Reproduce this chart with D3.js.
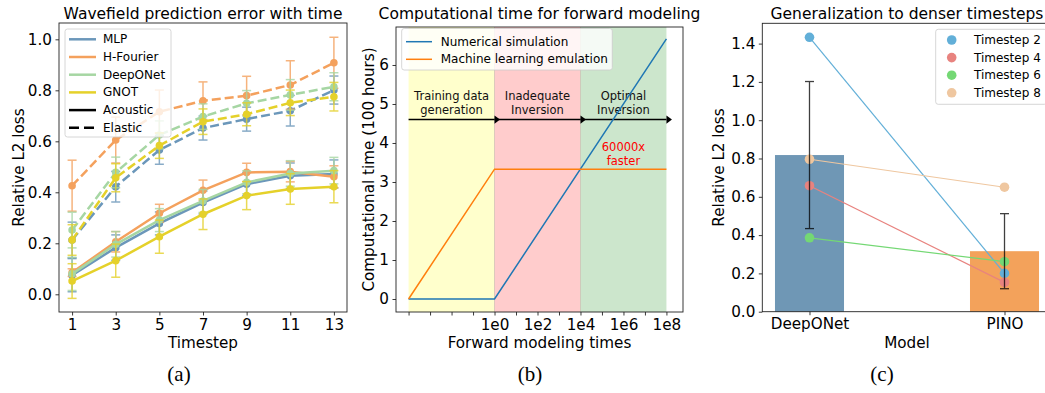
<!DOCTYPE html>
<html><head><meta charset="utf-8">
<script src="https://cdn.jsdelivr.net/npm/d3@7"></script>
<style>
body{margin:0;background:#fff}
svg{display:block;font-family:"DejaVu Sans",sans-serif}
</style>
</head><body>
<script>
// ---------------- (a) wavefield prediction error ----------------
const timesteps = [1, 3, 5, 7, 9, 11, 13];
const modelNames = ["MLP", "H-Fourier", "DeepONet", "GNOT"];
const modelColors = ["#6b97ba", "#f4a15d", "#a6d6a3", "#e5d12a"];

const mlpAcoustic      = [0.075, 0.183, 0.278, 0.360, 0.432, 0.465, 0.472];
const mlpAcousticErr   = [0.065, 0.050, 0.045, 0.045, 0.045, 0.050, 0.055];
const hfAcoustic       = [0.085, 0.206, 0.318, 0.408, 0.478, 0.481, 0.461];
const hfAcousticErr    = [0.015, 0.040, 0.035, 0.040, 0.036, 0.040, 0.043];
const donAcoustic      = [0.080, 0.196, 0.291, 0.366, 0.439, 0.474, 0.485];
const donAcousticErr   = [0.065, 0.050, 0.045, 0.045, 0.045, 0.050, 0.052];
const gnotAcoustic     = [0.052, 0.132, 0.226, 0.314, 0.387, 0.413, 0.422];
const gnotAcousticErr  = [0.068, 0.065, 0.065, 0.060, 0.055, 0.060, 0.063];

const mlpElastic       = [0.213, 0.422, 0.566, 0.652, 0.687, 0.720, 0.801];
const mlpElasticErr    = [0.070, 0.060, 0.056, 0.047, 0.047, 0.060, 0.055];
const hfElastic        = [0.426, 0.605, 0.716, 0.759, 0.779, 0.821, 0.908];
const hfElasticErr     = [0.100, 0.090, 0.085, 0.074, 0.076, 0.095, 0.100];
const donElastic       = [0.252, 0.478, 0.625, 0.697, 0.749, 0.782, 0.814];
const donElasticErr    = [0.070, 0.060, 0.055, 0.050, 0.050, 0.060, 0.055];
const gnotElastic      = [0.213, 0.457, 0.583, 0.677, 0.706, 0.751, 0.775];
const gnotElasticErr   = [0.060, 0.055, 0.050, 0.050, 0.045, 0.050, 0.056];

const lossTicksA = [0.0, 0.2, 0.4, 0.6, 0.8, 1.0];

// ---------------- (b) computational time ----------------
const fwdTimes = [1e-4, 1e0, 1e8];
const numericalHours = [0, 0, 6.67];
const mlHours = [0, 3.33, 3.33];
const phaseBounds = [1e-4, 1e0, 1e4, 1e8];
const phaseLabels = [["Training data", "generation"], ["Inadequate", "Inversion"], ["Optimal", "Inversion"]];
const phaseColors = ["#ffffcc", "#ffcccc", "#cce6cc"];
const phaseLabelPos = [1e-2, 1e2, 1e6];
const timeTickExps = [-4, -3, -2, -1, 0, 1, 2, 3, 4, 5, 6, 7, 8];
const timeLabelExps = [0, 2, 4, 6, 8];
const hourTicks = [0, 1, 2, 3, 4, 5, 6];
const arrowLevel = 4.6;
const speedupText = ["60000x", "faster"];

// ---------------- (c) generalization ----------------
const genModels = ["DeepONet", "PINO"];
const genMean = [0.818, 0.316];
const genStd = [0.384, 0.196];
const genBarColors = ["#6f97b5", "#f3a25b"];
const timestep2 = [1.433, 0.200];
const timestep4 = [0.658, 0.153];
const timestep6 = [0.386, 0.261];
const timestep8 = [0.796, 0.650];
const stepLabels = ["Timestep 2", "Timestep 4", "Timestep 6", "Timestep 8"];
const stepColors = ["#62afd8", "#e8837f", "#74d874", "#efc7a0"];
const lossTicksC = [0.0, 0.2, 0.4, 0.6, 0.8, 1.0, 1.2, 1.4];

// ---------------- drawing ----------------
const W = 1045, H = 393;
const svg = d3.select("body").append("svg").attr("width", W).attr("height", H);
svg.append("rect").attr("width", W).attr("height", H).attr("fill", "#fff");

const FS_TICK = 15.2, FS_LAB = 15.2, FS_TITLE = 15.5, FS_LEG = 12;
const AX = "#222";

function styleAxis(g) {
  g.select(".domain").remove();
  g.selectAll(".tick line").attr("stroke", AX).attr("stroke-width", 0.9);
  g.selectAll(".tick text").attr("font-size", FS_TICK).attr("fill", "#000")
    .attr("font-family", "DejaVu Sans");
}
function frame(x0, y0, x1, y1) {
  svg.append("rect").attr("x", x0).attr("y", y0).attr("width", x1 - x0).attr("height", y1 - y0)
    .attr("fill", "none").attr("stroke", AX).attr("stroke-width", 0.9);
}
function title(txt, cx) {
  svg.append("text").attr("x", cx).attr("y", 18.5).attr("text-anchor", "middle")
    .attr("font-size", FS_TITLE).text(txt);
}
function xlabel(txt, cx) {
  svg.append("text").attr("x", cx).attr("y", 348).attr("text-anchor", "middle")
    .attr("font-size", FS_LAB).text(txt);
}
function ylabel(txt, cx, cy) {
  svg.append("text").attr("transform", `translate(${cx},${cy}) rotate(-90)`)
    .attr("text-anchor", "middle").attr("dominant-baseline", "central")
    .attr("font-size", FS_LAB).text(txt);
}
function caption(txt, cx) {
  svg.append("text").attr("x", cx).attr("y", 381).attr("text-anchor", "middle")
    .attr("font-family", "Liberation Serif, serif").attr("font-size", 21).text(txt);
}

// ===== panel (a) =====
{
  const L = 59, R = 347, T = 23, B = 312;
  const x = d3.scaleLinear().domain([0.4, 13.6]).range([L, R]);
  const y = d3.scaleLinear().domain([-0.0694, 1.064]).range([B, T]);

  svg.append("g").attr("transform", `translate(0,${B})`)
    .call(d3.axisBottom(x).tickValues(timesteps).tickSize(3.5).tickPadding(3.5).tickFormat(d3.format("d")))
    .call(styleAxis);
  svg.append("g").attr("transform", `translate(${L},0)`)
    .call(d3.axisLeft(y).tickValues(lossTicksA).tickSize(3.5).tickPadding(3.5).tickFormat(d3.format(".1f")))
    .call(styleAxis);

  const acoustic = [mlpAcoustic, hfAcoustic, donAcoustic, gnotAcoustic];
  const acousticErr = [mlpAcousticErr, hfAcousticErr, donAcousticErr, gnotAcousticErr];
  const elastic = [mlpElastic, hfElastic, donElastic, gnotElastic];
  const elasticErr = [mlpElasticErr, hfElasticErr, donElasticErr, gnotElasticErr];

  const plot = svg.append("g");
  const line = d3.line().x(d => x(d.t)).y(d => y(d.v));

  function series(vals, errs, color, dashed) {
    const pts = timesteps.map((t, i) => ({ t, v: vals[i], e: errs[i] }));
    const g = plot.append("g");
    pts.forEach(p => {
      const eg = g.append("g").attr("stroke", color).attr("stroke-width", 1.5).attr("opacity", 0.8);
      eg.append("line").attr("x1", x(p.t)).attr("x2", x(p.t)).attr("y1", y(p.v - p.e)).attr("y2", y(p.v + p.e));
      [p.v - p.e, p.v + p.e].forEach(v =>
        eg.append("line").attr("x1", x(p.t) - 4.5).attr("x2", x(p.t) + 4.5).attr("y1", y(v)).attr("y2", y(v)));
    });
    g.append("path").datum(pts).attr("d", line).attr("fill", "none").attr("stroke", color)
      .attr("stroke-width", 2.5).attr("stroke-dasharray", dashed ? "9,4" : null);
    g.selectAll("circle").data(pts).join("circle").attr("cx", d => x(d.t)).attr("cy", d => y(d.v))
      .attr("r", 3.8).attr("fill", color);
  }
  modelNames.forEach((m, i) => {
    series(acoustic[i], acousticErr[i], modelColors[i], false);
    series(elastic[i], elasticErr[i], modelColors[i], true);
  });

  frame(L, T, R, B);

  // legend
  const lg = svg.append("g");
  lg.append("rect").attr("x", 65).attr("y", 29).attr("width", 106).attr("height", 108).attr("rx", 2.5)
    .attr("fill", "#fff").attr("fill-opacity", 0.8).attr("stroke", "#ccc").attr("stroke-width", 0.8);
  const entries = modelNames.map((m, i) => ({ label: m, color: modelColors[i], dash: null }))
    .concat([{ label: "Acoustic", color: "#000", dash: null }, { label: "Elastic", color: "#000", dash: "10,5" }]);
  entries.forEach((e, i) => {
    const yy = 39.3 + i * 17.7;
    lg.append("line").attr("x1", 69).attr("x2", 96).attr("y1", yy).attr("y2", yy)
      .attr("stroke", e.color).attr("stroke-width", 2.5).attr("stroke-dasharray", e.dash);
    lg.append("text").attr("x", 103).attr("y", yy).attr("dominant-baseline", "central")
      .attr("font-size", FS_LEG).text(e.label);
  });

  title("Wavefield prediction error with time", (L + R) / 2);
  xlabel("Timestep", (L + R) / 2);
  ylabel("Relative L2 loss", 18.5, (T + B) / 2);
  caption("(a)", 179);
}

// ===== panel (b) =====
{
  const L = 396, R = 683, T = 27, B = 312;
  const x = d3.scaleLog().domain([Math.pow(10, -4.585), Math.pow(10, 8.771)]).range([L, R]);
  const y = d3.scaleLinear().domain([-0.333, 6.974]).range([B, T]);

  // phase shading
  phaseColors.forEach((c, i) => {
    svg.append("rect").attr("x", x(phaseBounds[i])).attr("y", T)
      .attr("width", x(phaseBounds[i + 1]) - x(phaseBounds[i])).attr("height", B - T).attr("fill", c);
  });
  [phaseBounds[1], phaseBounds[2]].forEach(b => {
    svg.append("line").attr("x1", x(b)).attr("x2", x(b)).attr("y1", T).attr("y2", B)
      .attr("stroke", "#b9a99a").attr("stroke-width", 0.8).attr("opacity", 0.6);
  });

  svg.append("g").attr("transform", `translate(0,${B})`)
    .call(d3.axisBottom(x).tickValues(timeTickExps.map(e => Math.pow(10, e))).tickSize(3.5).tickPadding(3.5)
      .tickFormat(d => {
        const e = Math.round(Math.log10(d));
        return timeLabelExps.includes(e) ? "1e" + e : "";
      }))
    .call(styleAxis);
  svg.append("g").attr("transform", `translate(${L},0)`)
    .call(d3.axisLeft(y).tickValues(hourTicks).tickSize(3.5).tickPadding(3.5).tickFormat(d3.format("d")))
    .call(styleAxis);

  // phase arrows
  for (let i = 0; i < 3; i++) {
    const x0 = x(phaseBounds[i]), x1 = x(phaseBounds[i + 1]), yy = y(arrowLevel);
    svg.append("line").attr("x1", x0).attr("x2", x1).attr("y1", yy).attr("y2", yy)
      .attr("stroke", "#000").attr("stroke-width", 1.5);
    svg.append("path").attr("d", `M${x1},${yy - 4.2}L${x1 + 5.5},${yy}L${x1},${yy + 4.2}Z`).attr("fill", "#000");
    const lbl = svg.append("text").attr("text-anchor", "middle").attr("font-size", 11.5).attr("fill", "#111");
    phaseLabels[i].forEach((s, k) =>
      lbl.append("tspan").attr("x", x(phaseLabelPos[i])).attr("y", 100 + k * 13.5).text(s));
  }
  const sp = svg.append("text").attr("text-anchor", "middle").attr("font-size", 11.5).attr("fill", "#ff0000");
  speedupText.forEach((s, k) => sp.append("tspan").attr("x", x(1e6)).attr("y", 151 + k * 14).text(s));

  const line = d3.line().x(d => x(d[0])).y(d => y(d[1]));
  svg.append("path").datum(fwdTimes.map((t, i) => [t, numericalHours[i]])).attr("d", line)
    .attr("fill", "none").attr("stroke", "#1f77b4").attr("stroke-width", 1.5);
  svg.append("path").datum(fwdTimes.map((t, i) => [t, mlHours[i]])).attr("d", line)
    .attr("fill", "none").attr("stroke", "#ff7f0e").attr("stroke-width", 1.5);

  frame(L, T, R, B);

  const lg = svg.append("g");
  lg.append("rect").attr("x", 401.7).attr("y", 28.5).attr("width", 210.6).attr("height", 41.5).attr("rx", 2.5)
    .attr("fill", "#fff").attr("fill-opacity", 0.8).attr("stroke", "#ccc").attr("stroke-width", 0.8);
  [["Numerical simulation", "#1f77b4"], ["Machine learning emulation", "#ff7f0e"]].forEach((e, i) => {
    const yy = 41.7 + i * 17.6;
    lg.append("line").attr("x1", 406).attr("x2", 432).attr("y1", yy).attr("y2", yy)
      .attr("stroke", e[1]).attr("stroke-width", 1.5);
    lg.append("text").attr("x", 440.7).attr("y", yy).attr("dominant-baseline", "central")
      .attr("font-size", FS_LEG).text(e[0]);
  });

  title("Computational time for forward modeling", (L + R) / 2);
  xlabel("Forward modeling times", (L + R) / 2);
  ylabel("Computational time (100 hours)", 369, (T + B) / 2);
  caption("(b)", 530);
}

// ===== panel (c) =====
{
  const L = 762.3, R = 1051.7, T = 23.3, B = 311.7;
  const x = d3.scaleLinear().domain([-0.242, 1.242]).range([L, R]);
  const y = d3.scaleLinear().domain([0, 1.506]).range([B, T]);
  const barW = 0.354;

  genModels.forEach((m, i) => {
    svg.append("rect").attr("x", x(i - barW / 2)).attr("width", x(barW) - x(0))
      .attr("y", y(genMean[i])).attr("height", y(0) - y(genMean[i])).attr("fill", genBarColors[i]);
  });

  svg.append("g").attr("transform", `translate(0,${B})`)
    .call(d3.axisBottom(x).tickValues([0, 1]).tickSize(3.5).tickPadding(3.5).tickFormat(i => genModels[i]))
    .call(styleAxis);
  svg.append("g").attr("transform", `translate(${L},0)`)
    .call(d3.axisLeft(y).tickValues(lossTicksC).tickSize(3.5).tickPadding(3.5).tickFormat(d3.format(".1f")))
    .call(styleAxis);

  const steps = [timestep2, timestep4, timestep6, timestep8];
  steps.forEach((vals, k) => {
    const pts = vals.map((v, i) => [i, v]);
    svg.append("path").datum(pts).attr("d", d3.line().x(d => x(d[0])).y(d => y(d[1])))
      .attr("fill", "none").attr("stroke", stepColors[k]).attr("stroke-width", 1.2);
    svg.append("g").selectAll("circle").data(pts).join("circle")
      .attr("cx", d => x(d[0])).attr("cy", d => y(d[1])).attr("r", 4.8).attr("fill", stepColors[k]);
  });

  genModels.forEach((m, i) => {
    const g = svg.append("g").attr("stroke", "#000").attr("stroke-width", 1.3).attr("opacity", 0.75);
    const lo = genMean[i] - genStd[i], hi = genMean[i] + genStd[i];
    g.append("line").attr("x1", x(i)).attr("x2", x(i)).attr("y1", y(lo)).attr("y2", y(hi));
    [lo, hi].forEach(v => g.append("line").attr("x1", x(i) - 4.5).attr("x2", x(i) + 4.5).attr("y1", y(v)).attr("y2", y(v)));
  });

  frame(L, T, R, B);

  const lg = svg.append("g");
  lg.append("rect").attr("x", 935.7).attr("y", 29.3).attr("width", 111).attr("height", 75).attr("rx", 2.5)
    .attr("fill", "#fff").attr("fill-opacity", 0.8).attr("stroke", "#ccc").attr("stroke-width", 0.8);
  stepLabels.forEach((s, k) => {
    const yy = 40 + k * 17.6;
    lg.append("circle").attr("cx", 951.7).attr("cy", yy).attr("r", 4.8).attr("fill", stepColors[k]);
    lg.append("text").attr("x", 974).attr("y", yy).attr("dominant-baseline", "central")
      .attr("font-size", FS_LEG).text(s);
  });

  title("Generalization to denser timesteps", (L + R) / 2);
  xlabel("Model", (L + R) / 2);
  ylabel("Relative L2 loss", 718.5, (T + B) / 2);
  caption("(c)", 882);
}
</script>
</body></html>
